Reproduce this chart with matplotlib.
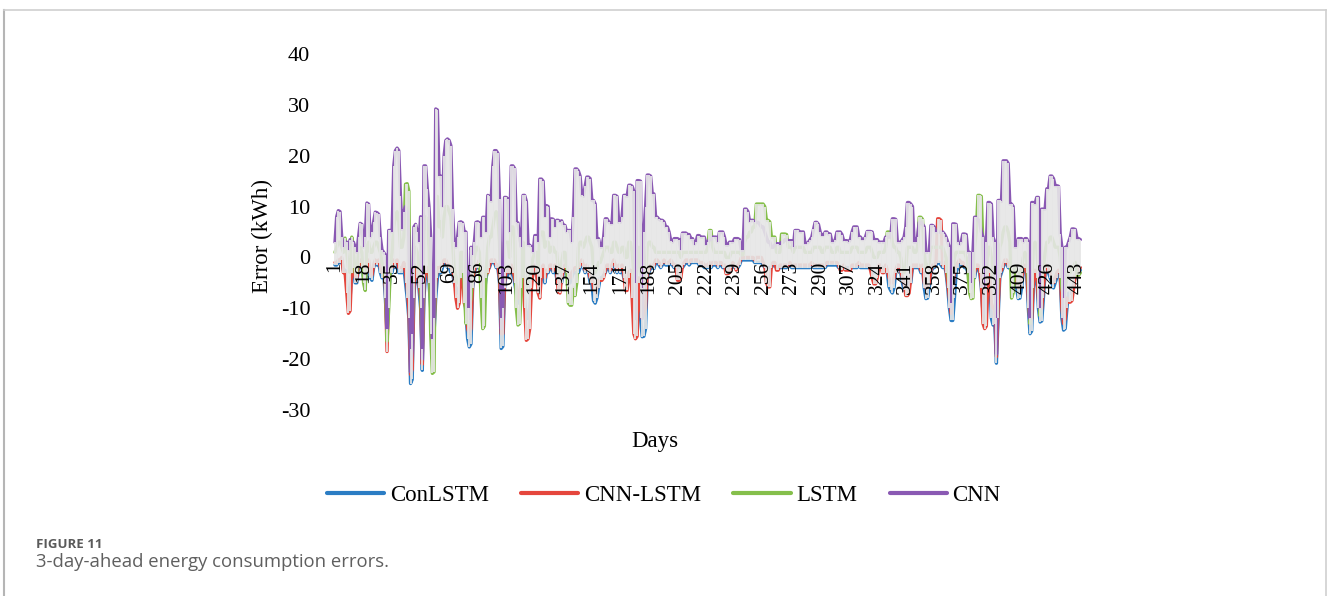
import matplotlib.pyplot as plt
import numpy as np
from matplotlib.lines import Line2D

# --- Data: daily forecast error (kWh) of each model ---
cnn = [
    3, 8, 9.2, 9, 4, 2, 3, 3, 1.5, 3.5, 3, 3, 2, 1, 4, 6.7, 6.5,
    2, 4, 10.7, 10.5, 4, 5, 7, 8.9, 8.8, 8.5, 4, 1.5, 1, 0.5, -14, 5.3, 5.3,
    5, 18, 21, 21.5, 21, 12, 5.5, 9, 10, 9, 4, -22.5, -18, 6, 6.5, 5, 3,
    8, -20, 18, 18, 13.5, 10, 4, -16, -12, 29.2, 29, 16, 16, 10, 20, 23, 23.3,
    23, 22, 9.5, 3, 2, 4, 6.9, 7, 6.8, 5, 5, -10, -12, 2, 0.5, 3, 6.9,
    7, 6.8, 4, 7.9, 7.9, 5, 12.2, 12, 11, 18, 21, 21, 20.5, 11.5, -14, -12, 11.8,
    11.8, 11.5, 5, 18, 18, 17.5, 6.9, 6.8, 4, 2, 12.2, 12.2, 11, 2.4, 2.4, 2, 1,
    4.3, 4.3, 3, 15.4, 15.4, 15, 8, 10.2, 10, 4, 7.6, 7.5, 6, 7.3, 7.3, 7, 7.2,
    6.3, 6.3, 5, 5.3, 5.3, 3, 8, 17.4, 17.4, 17, 16, 12.2, 12, 14, 15.8, 15.8, 15.5,
    11.2, 11.2, 10.5, 3.7, 3.7, 2, 2, 4, 7.6, 7.6, 7, 6.6, 6.6, 12.2, 12.2, 12, 6.9,
    6.9, 8, 12.2, 12.2, 12, 14.2, 14.2, 14, 13, -12, 15.1, 15.1, 15, -12, 5, 10, 16.2,
    16.2, 16, 12.5, 12.5, 7.9, 7.9, 7.5, 7.3, 7.3, 7, 6, 6, 5, 3.3, 3, 3.7, 3.7,
    3.7, 3.5, 1.5, 4.8, 4.8, 4.8, 4.5, 4.5, 3.7, 3.7, 2.5, 3, 4.3, 4.3, 4, 4, 4,
    2.5, 3, 3.5, 3.5, 4, 4, 4, 3, 5, 5, 5, 4, 2.4, 2.4, 3, 3, 3,
    3.7, 3.7, 3.7, 3.5, 1.4, 1.4, 9.5, 9.5, 9, 7, 7.3, 7.3, 7, 6.9, 6.9, 6.5, 6,
    6, 5, 4, 3, 3, 2, 2, 2.5, 2.7, 2.7, 2.5, 3, 3, 3.5, 3.5, 3.3, 3.3,
    3.3, 2, 5.3, 5.3, 5.3, 5, 5, 5, 2.7, 2.7, 3, 3.5, 4, 5.5, 6.9, 6.9, 6.5,
    5, 4.3, 4.3, 5, 5, 4.6, 4.6, 3, 3, 3.5, 5, 5, 5, 4.5, 3.3, 3.3, 3.3,
    3, 3.5, 5, 6, 6, 6, 4, 4, 3.5, 3.5, 4, 5.1, 5.1, 5.1, 5, 3.5, 3.5,
    3.5, 3, 3, 3, 3, 4, 4, 4, 4, 7.6, 7.6, 7.5, 3, 3, 3, 3.5, 4,
    6, 10.8, 10.8, 10.5, 10, 3, 3, 4, 6.9, 6.9, 6.5, 6, 1, 1, 1, 6.3, 6.3,
    6, 5, 5, 5, 5, 5, 4.6, 4, 3, 2, -10, 6.6, 6.6, 6.5, 3, 2.5, 3,
    4.6, 4.6, 4.5, 1, 1, -6, 1, 7.9, 7.9, 7.5, 7, 5, 4, -11, 3, 10.8, 10.8,
    10.5, 4, 3, -19, 11.2, 11.2, 11, 19, 19, 19, 18.5, 10.5, 10.5, 10, 2, 2, 3.7,
    3.7, 3.7, 3, 3.7, 3.7, 3, -12, 10.8, 10.8, 10.5, 11.8, 11.8, -10, 9.5, 9.5, 9.5, 13.5,
    13.5, 16, 16, 15.5, 14.1, 14.1, 14, 4.6, 2, -12, 2, 2, 3, 4, 5.6, 5.6, 5.5,
    3.7, 3.7, 3.5,
]

lstm = [
    1, 2, 3, 3, 2, 1, 3.8, 1, -2, -3, 4, 1, -3, -3, 1, 2, 1,
    -5, -6.5, 2, 3, 1, 1, 2, 3, 3, 2, 1, -1, -2, -4, -16.5, -10, -2,
    1, 6, 8, 9, 7, 2, 2, 4, 14.4, 14.5, 13, -18, -15, 1, 2, 1, -2,
    -6, -18, 5, 8, 6, 2, -15, -22.8, -22.5, 10, 12, 6, 7, 4, 8, 10, 10,
    9, 8, 3, -2, -4, -5, -4, 1, 1, -6, -13, -12, -10, -8, -3, 0, 2,
    2, 1, -8, -14, -13.5, -3, 2, 4, 4, 6, 8, 9, 8, 3, -12, -10, 3,
    3, 3, 0, 6, 6, 4, -10, -13.3, -13, -6, 3, -2, -6, -5, -4, -2, 0,
    1, 1, -2, 4, 5, 5, 2, 3, 3, 1, 2, 2, 1, 1, -2, -3, -1,
    1, 1, -2, -9, -9.4, -9.4, -6, -7.5, -5, 2, 3, 3, 2, 3, 4, 4, 3,
    2, -2, -3, -2, -1, -1, 0, 1, 2, 2, 2, 1, 1, 3, 3, 2, 1,
    1, 2, 2, 0, 0, 3, 3, 1, -3, -5, -2, 2, -2, -6, -5, -4, 2,
    3, 3, 2, 2, 1, 1, 1, 1, 1, 1, 1, 1, 1, 1, 1, 1, 1,
    1, 1, 0, 1, 1, 1, 1, 1, 1, 1, 1, 1, 1, 1, 1, 1, 1,
    1, 2, 5.3, 5.3, 2, 1, 1, 1, 1, 1, 1, 1, 0, 0, 0, 1, 1,
    1, 1, 1, 1, 0.5, 0.5, 3, 4, 4, 5, 5, 6, 6, 10.5, 10.5, 10.5, 10.5,
    10.5, 10, 7.3, 7.3, 7, 4, 4, 4, 1, 1, 1, 4.6, 4.6, 4.6, 4.5, 2, 2,
    2, 1, 2, 2, 2, 2, 2, 2, 1, 1, 1, 1, 1, 2, 2, 2, 2,
    2, 1, 1, 2, 2, 2, 2, 1, 1, 1, 2, 2, 1, 1, 1, 1, 1,
    1, 1, 2, 2, 2, 2, 1, 1, 1, 1, 1, 2, 2, 2, 1, 0, 0,
    0, 1, 1, 1, 1, 2, 5, 5, 5, 3, 2, 2, 1, 1, 0, -2, -3,
    -2, 2, 2, 2, 2, 1, 1, 2, 7.9, 7.9, 7.5, 1, -2, -2, -1, 2, 2,
    2, 2, 2, 2, 2, 2, 1, 0, -3, -6, -9, -4, 0, 1, 1, 1, 1,
    1, 1, 0, -3, -7, -8.1, -8, 2, 5, 12.2, 12.2, 12, 2, -6, -3, 2, 2,
    0, -4, -4, -12, -4, 2, 3, 5, 6, 6, 5, 3, -8, -7, -2, -3, -3,
    -3, -2, 0, 1, 0, -5, -13, -6, 2, 3, 2, -3, -11.5, -4, -2, 1, 3,
    3, 4, 4, 3, 2, 2, 2, 0, -6, -8, -6, -4, -3, -3, -2, -2, -1,
    -3.5, -3.5, -3,
]

cnn_lstm = [
    -1, -1, -0.5, -0.5, 0, -3, -3, -7, -11, -10.5, -2, -1.5, -4, -4, -1.5, -0.5, -1.5,
    -3, -4, -2, -0.5, -3, -3.5, -1.5, -0.5, -1, -0.5, -2, -3, -2, -6, -18.5, -6, -2,
    -2, -0.5, -1, -0.5, -2, -2, -2, -1, -3, -6, -10, -23, -22, -6, -1.5, -3, -5,
    -8, -21, -5, -2, -2, -4, -8, -18, -14, -5, -2, -2, -2, -1, -0.5, -0.5, -1.5,
    -1.5, -2, -2.5, -4, -8, -10, -9, -3.5, -2.5, -9, -10, -14, -15, -14, -5, -2.5, -1.5,
    -1.5, -0.5, -4, -6, -5, -3, -3, -1.5, -0.5, -0.5, -0.5, -1.5, -1.5, -4, -15, -15, -5,
    -2.5, -2.5, -3, -1.5, -2.5, -4, -6, -8, -7, -4, -3, -10, -16.3, -16, -14, -6, -2.5,
    -1.5, -2.5, -7, -8, -3, -1.5, -4, -2.5, -2.5, -1.5, -1.5, -2.5, -1.5, -3, -6.8, -7, -4,
    -2.5, -1.5, -2.5, -4, -4, -3, -2.5, -2, -2, -2, -1.5, -0.5, -1.5, -2.5, -1.5, -2.5, -4,
    -4, -6, -7, -6, -4.5, -4.5, -4.5, -4, -2.5, -1.5, -1.5, -2.5, -1.5, -0.5, -1.5, -2.5, -1.5,
    -2.5, -1.5, -3, -6.5, -6.5, -3, -2.5, -8, -15, -16, -15.5, -4, -9, -12, -11, -10, -3,
    -2.5, -1.5, -1.5, -1.5, -0.5, -0.5, -1, -1.5, -1, -0.5, -1, -1, -1, -0.5, -1, -1.5, -1.5,
    -4.5, -4.5, -4, -1.5, -1, -0.5, -0.5, -1, -0.5, -0.5, -0.5, -0.5, -0.5, -1, -1, -1, -1.5,
    -1.5, -1.5, -1, -1.5, -1, -1, -1, -1.5, -1, -1, -1.5, -1.5, -3.2, -3.2, -3, -1.5, -1,
    -1.5, -2.5, -1.5, -1, 0, 0, 0, 0, 0, 0, 0, 0, -0.5, 0, 0, 0, 0,
    -1, -1.5, -5, -5.8, -5.8, -1.5, -1, -1, -2.5, -2.5, -1.5, -1.5, -1.5, -1.5, -1.5, -1.5, -1,
    -1.5, -1.5, -1.5, -1.5, -1.5, -1.5, -1.5, -1.5, -1.5, -1.5, -1.5, -1.5, -1, -1.5, -1.5, -1.5, -1.5,
    -1.5, -1.5, -1.5, -1.5, -1, -1, -1, -1, -1, -1, -1, -1.5, -2.5, -2.5, -1.5, -2.5, -2.5,
    -2.5, -2.5, -1.5, -1.5, -1.5, -1.5, -1, -1.5, -1.5, -1.5, -1.5, -1.5, -1.5, -2.5, -4, -5.2, -5.2,
    -4, -1.5, -1.5, -3, -3, -1.5, -2.5, -4, -5, -5, -4, -2.5, -1.5, -1.5, -2.5, -4, -5,
    -7.5, -7.5, -7, -4, -1.5, -1.5, -1.5, -1.5, -1.5, -2.5, -1.5, -5, -6, -6, -5, -2.5, -1.5,
    -1.5, -1, 7.6, 7.6, 7.3, -1.5, -1, -2.5, -5, -8, -11, -7, -2.5, -1.5, -1, -0.5, -1,
    -1, -1.5, -1.5, -2.5, -3, -5, -3, -3, -1.5, -1.5, -2.5, -5, -13, -14, -13.5, -4, -2.5,
    -9, -10, -10, -19.5, -10, -3, -2.5, -1.5, -0.5, -0.5, -1.5, -1.5, -2.5, -2.5, -2.5, -5, -6,
    -6, -4, -2.5, -1.5, -2.5, -8, -13, -12, -5, -2.5, -3, -8, -11, -10, -6, -2.5, -1.5,
    -2.5, -3, -4, -5, -4, -3, -2.5, -3, -10, -13, -12, -8, -8.8, -8.8, -8.5, -6, -3.5,
    -2.5, -2.5, -2,
]

conlstm = [
    -1.5, -1.5, -1, -1, -0.5, -2.5, -2.5, -5, -8, -8, -3, -2, -5, -5, -2, -1, -2,
    -4, -5, -3, -1, -4, -4.5, -2, -1, -1.5, -1, -3, -4, -3, -8, -15, -7, -3,
    -3, -1, -2, -1, -3, -3, -3, -2, -5, -8, -12, -24.8, -24, -8, -2, -4, -6,
    -10, -22.2, -8, -3, -3, -5, -10, -20, -15, -8, -4, -3, -3, -2, -1, -1, -2,
    -2, -3, -3, -5, -6, -7, -6, -4, -3, -7, -11, -16, -17.6, -17, -6, -3, -2,
    -2, -1, -5, -8, -7, -4, -2.5, -2, -1, -1, -1, -2, -2, -5, -17.9, -17.5, -6,
    -3, -3, -4, -2, -3, -5, -7, -9, -8, -5, -4, -8, -12, -12, -10, -5, -3,
    -2, -3, -5, -6, -4, -2, -5, -3, -3, -2, -2, -3, -2, -4, -5, -5, -5,
    -3, -2, -3, -5, -5, -4, -3, -3, -3, -3, -2, -1, -2, -3, -2, -3, -5,
    -5, -8.5, -9, -8, -6, -4, -4, -3.5, -3, -2, -2, -3, -2, -1, -2, -3, -2,
    -3, -2, -4, -5, -5, -4, -3, -6, -10, -12, -11, -5, -12, -15.6, -15.5, -14, -4,
    -3, -2, -2, -2.2, -1, -1, -1.5, -2, -1.5, -1, -1.5, -1.5, -1.5, -1, -1.5, -2, -2,
    -2, -2, -2, -2, -1.5, -1, -1, -1.5, -1, -1, -1, -1, -1, -1.5, -1.5, -1.5, -2,
    -2, -2, -1.5, -2, -1.5, -1.5, -1.5, -2, -1.5, -1.5, -2, -2, -2, -2, -2, -2, -1.5,
    -2, -2, -2, -1.5, -0.5, -0.5, -0.5, -0.5, -0.5, -0.5, -0.5, -0.5, -1, -1, -1, -1, -1,
    -1.5, -2, -2, -2, -2, -2, -1.5, -1.5, -2, -2, -2, -2, -2, -2, -2, -1.5, -1.5,
    -2, -2, -2, -2, -2, -2, -2, -2, -2, -2, -2, -2, -1.5, -2, -2, -2, -2,
    -2, -2, -2, -2, -1.5, -1.5, -1.5, -1.5, -1.5, -1.5, -1.5, -2, -2, -2, -2, -2, -2,
    -2, -2, -2, -2, -2, -2, -1.5, -2, -2, -2, -2, -2, -2, -2, -3, -3, -3,
    -3, -2, -2, -2, -2, -2, -3, -5.8, -6.5, -7, -6, -3, -2, -2, -3, -5, -6.5,
    -6, -5, -5, -5, -2, -2, -2, -2, -2, -3, -2, -6, -8.1, -8, -6, -3, -2,
    -2, -1.5, -1, -1, -1.5, -2, -1.5, -3, -6, -10, -12.4, -12.4, -8, -3, -2, -1, -1.5,
    -1.5, -2, -2, -3, -4, -6, -4, -4, -2, -2, -3, -6, -11, -12, -11, -5, -3,
    -12, -13.3, -13, -20.8, -12, -4, -3, -2, -1, -1, -2, -2, -3, -3, -3, -6, -8.1,
    -8, -6, -3, -2, -3, -10, -15, -14.5, -6, -3, -4, -10, -12.7, -12.5, -8, -3, -2,
    -3, -4, -5, -6, -5, -4, -3, -4, -12, -14.3, -14, -10, -7, -7, -7, -5, -4,
    -3, -3, -2.5,
]

series_names = ["ConLSTM", "CNN-LSTM", "LSTM", "CNN"]
tick_days = list(range(1, 444, 17))

colors = ["#2b7dc4", "#e5463d", "#85bf4b", "#8a59b3"]

plt.rcParams["font.family"] = ["Liberation Serif", "DejaVu Serif"]
plt.rcParams["axes.unicode_minus"] = False

fig = plt.figure(figsize=(13.28, 5.96), dpi=100)
ax = fig.add_axes([320 / 1328, 1 - 410 / 596, 770 / 1328, 356 / 596])

days = np.arange(1, len(cnn) + 1)
data = [conlstm, cnn_lstm, lstm, cnn]

for vals, color, name in zip(data, colors, series_names):
    ax.plot(days, vals, color=color, lw=2.4, solid_joinstyle="round",
            solid_capstyle="round", label=name, zorder=2)

# high-low lines across the four models for each day
stack = np.array(data)
ax.vlines(days, stack.min(axis=0), stack.max(axis=0), color="#e6e6e6",
          lw=1.3, zorder=3)

# x axis crosses at zero; tick labels sit just under it, over the lines
ax.spines["bottom"].set_position(("data", 0))
for side in ["top", "right", "left", "bottom"]:
    ax.spines[side].set_color("none")
ax.xaxis.set_zorder(10)

ax.set_xlim(1 - 15 / 1.6787, 443 + 13 / 1.6787)
ax.set_ylim(-30, 40)
ax.set_yticks(range(-30, 41, 10))
ax.set_xticks(tick_days)
ax.set_xticklabels([str(d) for d in tick_days])
ax.tick_params(axis="y", length=0, labelsize=16, pad=7)
ax.tick_params(axis="x", length=0, labelsize=15.5, pad=3, labelrotation=90)
ax.patch.set_alpha(0)

fig.text(262 / 1328, 1 - 236 / 596, "Error (kWh)", rotation=90,
         ha="center", va="center", fontsize=16.5)
fig.text(655 / 1328, 1 - 441 / 596, "Days", ha="center", va="center",
         fontsize=16.5)

fig.legend(loc="center", bbox_to_anchor=(0.5, 1 - 495 / 596), ncol=4,
           frameon=False, fontsize=16.5, handlelength=2.5, handletextpad=0.25,
           columnspacing=1.4)
for line in fig.legends[0].get_lines():
    line.set_linewidth(3)

# panel frame and caption
frame_kw = dict(transform=fig.transFigure, clip_on=False)
fig.add_artist(Line2D([4 / 1328, 4 / 1328], [0, 1 - 10 / 596],
                      color="#b5b5b5", lw=1.5, **frame_kw))
fig.add_artist(Line2D([4 / 1328, 1326 / 1328], [1 - 10 / 596, 1 - 10 / 596],
                      color="#cfcfcf", lw=1.2, **frame_kw))
fig.add_artist(Line2D([1326 / 1328, 1326 / 1328], [0, 1 - 10 / 596],
                      color="#cfcfcf", lw=1.2, **frame_kw))

fig.text(36 / 1328, 1 - 545 / 596, "FIGURE 11", family=["Open Sans", "DejaVu Sans"],
         fontweight="bold", fontsize=9.5, color="#5a5a5a", ha="left", va="center")
fig.text(36 / 1328, 1 - 562 / 596, "3-day-ahead energy consumption errors.",
         family=["Open Sans", "DejaVu Sans"], fontsize=13.3, color="#5f5f5f",
         ha="left", va="center")

fig.savefig("out.png", dpi=100)
plt.close(fig)
